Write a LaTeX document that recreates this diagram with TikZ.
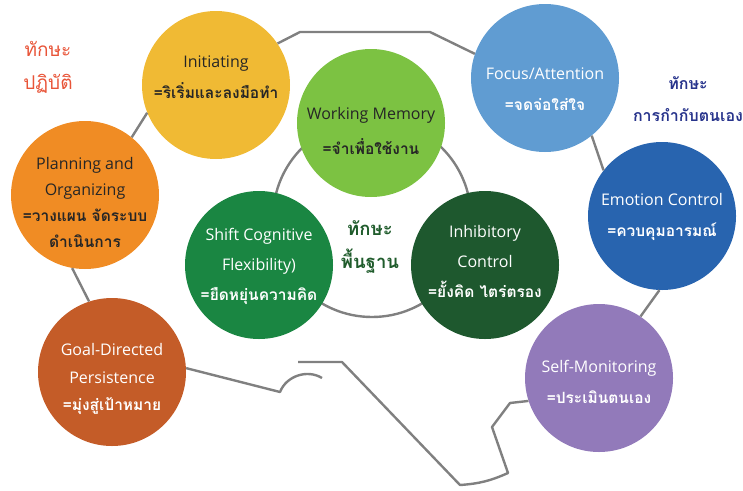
\documentclass[tikz,border=0pt]{standalone}
\usepackage{fontspec}
\setmainfont{Open Sans}
\newfontfamily\thai[Script=Thai]{Loma}
\newcommand{\tht}[1]{{\thai\bfseries\fontsize{15.5}{31}\selectfont #1}}
\usepackage{tikz}
\usetikzlibrary{positioning}

\definecolor{cInit}{RGB}{240,186,52}
\definecolor{cWork}{RGB}{124,194,66}
\definecolor{cFocus}{RGB}{96,156,210}
\definecolor{cEmo}{RGB}{40,100,175}
\definecolor{cSelf}{RGB}{146,122,186}
\definecolor{cInhib}{RGB}{30,88,46}
\definecolor{cShift}{RGB}{26,134,66}
\definecolor{cPlan}{RGB}{240,140,36}
\definecolor{cGoal}{RGB}{196,92,40}
\definecolor{cLine}{RGB}{128,128,128}
\definecolor{tRed}{RGB}{232,84,56}
\definecolor{tBlue}{RGB}{40,52,140}
\definecolor{tGreen}{RGB}{32,92,44}

\begin{document}
\begin{tikzpicture}[
  x=1pt, y=-1pt,
  font=\fontsize{16}{31}\selectfont,
  ball/.style={circle, minimum size=148pt, inner sep=0pt},
  txt/.style={align=center, inner sep=0pt},
  dark/.style={txt, text=black!85},
  light/.style={txt, text=white},
  outline/.style={draw=cLine, line width=2.4pt, line join=round},
  head/.style={align=center, font=\thai\bfseries\fontsize{16}{32}\selectfont}
]
\useasboundingbox (0,0) rectangle (743,490);

% gray core ring goes first
\draw[outline] (372,218) circle (99pt);

% the nine skill circles
\node[ball, fill=cInit]  (init)  at (216,85)  {};
\node[ball, fill=cWork]  (wm)    at (371,123) {};
\node[ball, fill=cFocus] (focus) at (545,78)  {};
\node[ball, fill=cEmo]   (emo)   at (662,216) {};
\node[ball, fill=cSelf]  (self)  at (599,378) {};
\node[ball, fill=cInhib] (inhib) at (485,265) {};
\node[ball, fill=cShift] (shift) at (259,265) {};
\node[ball, fill=cPlan]  (plan)  at (85,195)  {};
\node[ball, fill=cGoal]  (goal)  at (112,372) {};

% their texts
\node[dark]  (initT)  at (216,77)  {Initiating\\\tht{=ริเริ่มและลงมือทำ}};
\node[dark, font=\fontsize{16}{35}\selectfont] (wmT) at (371,131) {Working Memory\\\tht{=จำเพื่อใช้งาน}};
\node[light] (focusT) at (545,89)  {Focus/Attention\\\tht{=จดจ่อใส่ใจ}};
\node[light] (emoT)   at (662,217) {Emotion Control\\\tht{=ควบคุมอารมณ์}};
\node[light] (selfT)  at (599,382) {Self-Monitoring\\\tht{=ประเมินตนเอง}};
\node[light, font=\fontsize{16}{30}\selectfont] (inhibT) at (485,261) {Inhibitory\\Control\\\tht{=ยั้งคิด ไตร่ตรอง}};
\node[light, font=\fontsize{16}{30}\selectfont] (shiftT) at (259,266) {Shift Cognitive\\Flexibility)\\\tht{=ยืดหยุ่นความคิด}};
\node[dark, font=\fontsize{16}{26}\selectfont] (planT) at (85,202)
  {Planning and\\Organizing\\\tht{=วางแผน จัดระบบ}\\\tht{ดำเนินการ}};
\node[light, font=\fontsize{16}{27.5}\selectfont] (goalT) at (112,379)
  {Goal-Directed\\Persistence\\\tht{=มุ่งสู่เป้าหมาย}};

% map outline bends
\coordinate (n1) at (300,32);
\coordinate (n2) at (430,32);
\coordinate (s1) at (280,392);
\coordinate (s2) at (322,378);
\coordinate (s3) at (298,362);
\coordinate (s4) at (342,362);
\coordinate (s5) at (460,485);
\coordinate (s6) at (508,473);
\coordinate (s7) at (492,427);
\coordinate (s8) at (510,403);

\draw[outline] (init.34) -- (n1) -- (n2) -- (focus.161);
\draw[outline] (focus.309) -- (emo.142);
\draw[outline] (emo.268) -- (self.56);
\draw[outline] (self.198) -- (s8) -- (s7) -- (s6) to[bend left=10] (s5) -- (s4) -- (s3);
\draw[outline] (goal.3) -- (s1) to[bend left=50] (s2);
\draw[outline] (goal.108) -- (plan.260);
\draw[outline] (plan.51) -- (init.202);

% group titles
\node[head, text=tRed, font=\thai\fontsize{19}{33}\selectfont] (tpractice) at (48,67) {ทักษะ\\ปฏิบัติ};
\node[head, text=tBlue] (tself) at (688,99) {ทักษะ\\การกำกับตนเอง};
\node[head, text=tGreen, font=\thai\bfseries\fontsize{18.5}{33}\selectfont] (tbase) at (370,247) {ทักษะ\\พื้นฐาน};
\end{tikzpicture}
\end{document}
